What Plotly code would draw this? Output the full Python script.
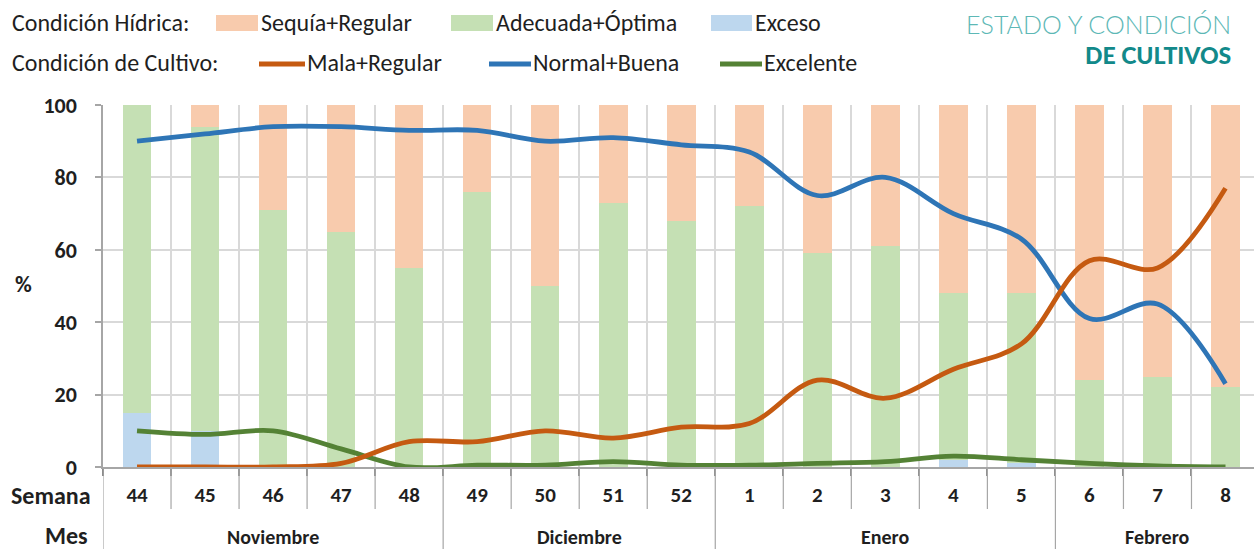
import plotly.graph_objects as go

# ---------------- data ----------------
weeks = ["44", "45", "46", "47", "48", "49", "50", "51", "52",
         "1", "2", "3", "4", "5", "6", "7", "8"]
months = ["Noviembre"] * 5 + ["Diciembre"] * 4 + ["Enero"] * 5 + ["Febrero"] * 3

exceso = [15, 10, 0, 0, 0, 0, 0, 0, 0, 0, 0, 0, 2, 1, 0, 0, 0]
adecuada_optima = [85, 84, 71, 65, 55, 76, 50, 73, 68, 72, 59, 61, 46, 47, 24, 25, 22]
sequia_regular = [0, 6, 29, 35, 45, 24, 50, 27, 32, 28, 41, 39, 52, 52, 76, 75, 78]

mala_regular = [0, 0, 0, 1, 7, 7, 10, 8, 11, 12, 24, 19, 27, 34, 57, 55, 77]
normal_buena = [90, 92, 94, 94, 93, 93, 90, 91, 89, 87, 75, 80, 70, 63, 41, 45, 23]
excelente = [10, 9, 10, 5, 0, 0.5, 0.5, 1.5, 0.5, 0.5, 1, 1.5, 3, 2, 1, 0.3, 0]

y_ticks = [0, 20, 40, 60, 80, 100]

# ---------------- style ----------------
FONT = "Carlito, Lato, 'Liberation Sans', sans-serif"
TXT = "#1f1f1f"
C_SEQ = "#F8CBAD"
C_ADE = "#C5E0B4"
C_EXC = "#BDD7EE"
C_MALA = "#C55A11"
C_NORM = "#2E75B6"
C_EXCL = "#548235"

W, H = 1254, 549
ML, MR, MT, MB = 103, 0, 105, 82
PW, PH = W - ML - MR, H - MT - MB
CAT_PX = 68.03


def px(xp):
    return (xp - ML) / PW


def py(yp):
    return (H - MB - yp) / PH


fig = go.Figure()

bar_w = 0.42
fig.add_trace(go.Bar(x=weeks, y=exceso, name="Exceso", marker_color=C_EXC,
                     width=bar_w, marker_line_width=0))
fig.add_trace(go.Bar(x=weeks, y=adecuada_optima, name="Adecuada+Óptima",
                     marker_color=C_ADE, width=bar_w, marker_line_width=0))
fig.add_trace(go.Bar(x=weeks, y=sequia_regular, name="Sequía+Regular",
                     marker_color=C_SEQ, width=bar_w, marker_line_width=0))

for name, vals, col in [("Excelente", excelente, C_EXCL),
                        ("Normal+Buena", normal_buena, C_NORM),
                        ("Mala+Regular", mala_regular, C_MALA)]:
    fig.add_trace(go.Scatter(x=weeks, y=vals, name=name, mode="lines",
                             line=dict(color=col, width=4.8, shape="spline", smoothing=1.0),
                             cliponaxis=False))

x_max = -0.5 + PW / CAT_PX

fig.update_layout(
    width=W, height=H,
    margin=dict(l=ML, r=MR, t=MT, b=MB, pad=0),
    barmode="stack",
    showlegend=False,
    plot_bgcolor="white", paper_bgcolor="white",
    font=dict(family=FONT, color=TXT, size=17),
    xaxis=dict(type="category", categoryorder="array", categoryarray=weeks,
               range=[-0.5, x_max], tickson="boundaries",
               showgrid=True, gridcolor="#D9D9D9", gridwidth=1.5,
               showline=True, linecolor="#A6A6A6", linewidth=1.5,
               ticks="outside", ticklen=7, tickcolor="#8C8C8C", tickwidth=1.5,
               tickfont=dict(family=FONT, size=21, color=TXT, weight="bold"),
               ticklabelstandoff=8, zeroline=False),
    yaxis=dict(range=[0, 100], tickvals=y_ticks,
               showgrid=True, gridcolor="#D9D9D9", gridwidth=1.5,
               showline=True, linecolor="#A6A6A6", linewidth=1.5,
               ticks="outside", ticklen=6, tickcolor="#A6A6A6", tickwidth=1.5,
               tickfont=dict(family=FONT, size=22, color=TXT, weight="bold"),
               ticklabelstandoff=14, zeroline=False),
)

shapes = []
annotations = []

# category separators below the axis (week row and month row)
for i in range(len(weeks) + 1):
    is_month_edge = i == 0 or i == len(weeks) or months[i] != months[i - 1]
    shapes.append(dict(type="line", xref="x", yref="paper",
                       x0=i - 0.5, x1=i - 0.5, y0=0, y1=py(549 if is_month_edge else 509),
                       line=dict(color="#A6A6A6", width=1.2)))

# month labels centered on their week groups
seen = []
for m in months:
    if m not in seen:
        seen.append(m)
for m in seen:
    idx = [i for i, mm in enumerate(months) if mm == m]
    cx = (idx[0] + idx[-1]) / 2
    annotations.append(dict(x=cx, y=py(537), xref="x", yref="paper", text=m,
                            showarrow=False, xanchor="center", yanchor="middle",
                            font=dict(family=FONT, size=20, color=TXT, weight="bold")))

annotations += [
    dict(x=px(93), y=py(495), xref="paper", yref="paper", text="Semana", showarrow=False,
         xanchor="right", yanchor="middle", font=dict(family=FONT, size=24, color=TXT, weight="bold")),
    dict(x=px(90), y=py(535), xref="paper", yref="paper", text="Mes", showarrow=False,
         xanchor="right", yanchor="middle", font=dict(family=FONT, size=24, color=TXT, weight="bold")),
    dict(x=px(13), y=py(284), xref="paper", yref="paper", text="%", showarrow=False,
         xanchor="left", yanchor="middle", font=dict(family=FONT, size=23, color=TXT, weight="bold")),
]

# custom legend
def leg_text(x, y, t):
    annotations.append(dict(x=px(x), y=py(y), xref="paper", yref="paper", text=t,
                            showarrow=False, xanchor="left", yanchor="middle",
                            font=dict(family=FONT, size=24, color=TXT)))

leg_text(10, 22, "Condición Hídrica:")
for x0, x1, col, xt, t in [(216, 258, C_SEQ, 259, "Sequía+Regular"),
                           (451, 493, C_ADE, 494, "Adecuada+Óptima"),
                           (711, 752, C_EXC, 753, "Exceso")]:
    shapes.append(dict(type="rect", xref="paper", yref="paper", x0=px(x0), x1=px(x1),
                       y0=py(31), y1=py(15), fillcolor=col, line=dict(width=0), layer="above"))
    leg_text(xt, 22, t)

leg_text(10, 62, "Condición de Cultivo:")
for x0, x1, col, xt, t in [(259, 305, C_MALA, 305, "Mala+Regular"),
                           (489, 531, C_NORM, 531, "Normal+Buena"),
                           (720, 762, C_EXCL, 762, "Excelente")]:
    shapes.append(dict(type="line", xref="paper", yref="paper", x0=px(x0), x1=px(x1),
                       y0=py(64), y1=py(64), line=dict(color=col, width=5), layer="above"))
    leg_text(xt, 62, t)

# header
annotations += [
    dict(x=px(1233), y=py(24), xref="paper", yref="paper", text="ESTADO Y CONDICIÓN",
         showarrow=False, xanchor="right", yanchor="middle",
         font=dict(family="Lato, 'Open Sans', sans-serif", size=25, color="#5DB8B6", weight=300)),
    dict(x=px(1233), y=py(55), xref="paper", yref="paper", text="DE CULTIVOS",
         showarrow=False, xanchor="right", yanchor="middle",
         font=dict(family="Lato, 'Open Sans', sans-serif", size=23, color="#12898A", weight=900)),
]

fig.update_layout(shapes=shapes, annotations=annotations)
fig.write_html("out.html", config={"displayModeBar": False},
               post_script="document.body.style.margin='0px';")
